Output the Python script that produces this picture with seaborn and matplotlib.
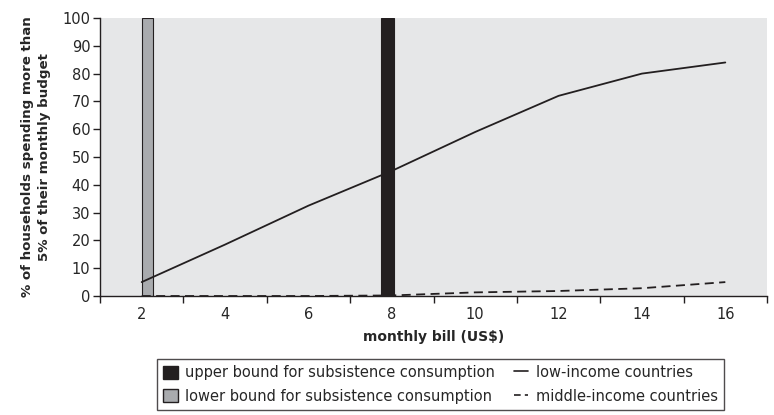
import numpy as np
import pandas as pd
import seaborn as sns
import matplotlib
matplotlib.use("Agg")
from matplotlib import pyplot as plt
from matplotlib.patches import Patch
from matplotlib.lines import Line2D

# data
bill = [2, 4, 6, 8, 10, 12, 14, 16]
low_income = [5, 18.5, 32.5, 45, 59, 72, 80, 84]
middle_income = [0, 0, 0, 0.2, 1.3, 1.8, 2.8, 5]
lower_bound = [2.0, 2.27]   # start / end of grey band (US$)
upper_bound = [7.73, 8.05]  # start / end of black band (US$)

df = pd.DataFrame({"bill": bill, "low": low_income, "mid": middle_income})

sns.set_style("white")
plt.rcParams['font.family'] = ['DejaVu Sans']
plt.rcParams['font.size'] = 10

fig = plt.figure(figsize=(7.74, 4.15), dpi=100)
ax = fig.add_axes([100/774, 1-296/415, 667/774, 278/415])
ax.set_facecolor('#e6e7e8')

ax.bar(lower_bound[0], 100, width=lower_bound[1]-lower_bound[0], align='edge',
       color='#a9abae', edgecolor='#231f20', linewidth=0.8, zorder=2)
ax.bar(upper_bound[0], 100, width=upper_bound[1]-upper_bound[0], align='edge',
       color='#231f20', edgecolor='#231f20', linewidth=0.8, zorder=2)

sns.lineplot(data=df, x="bill", y="low", color='#231f20', linewidth=1.3, ax=ax, zorder=3)
sns.lineplot(data=df, x="bill", y="mid", color='#231f20', linewidth=1.3, ax=ax, zorder=3)
ax.lines[-1].set_dashes([5, 3])

ax.set_xlim(1, 17)
ax.set_ylim(0, 100)
ax.set_yticks(range(0, 101, 10))
ax.set_xticks(bill)
ax.set_xticks(np.arange(1, 18, 2), minor=True)
ax.tick_params(axis='x', which='major', length=0, labelsize=10.5, pad=8)
ax.tick_params(axis='x', which='minor', length=5, width=1, color='#231f20', direction='out')
ax.tick_params(axis='y', length=5, width=1, color='#231f20', labelsize=10.5, direction='out', pad=2)
ax.xaxis.set_tick_params(bottom=True, which='minor')
ax.yaxis.set_tick_params(left=True)
for s in ['top', 'right']:
    ax.spines[s].set_visible(False)
for s in ['left', 'bottom']:
    ax.spines[s].set_color('#231f20')
    ax.spines[s].set_linewidth(1)

ax.set_xlabel("monthly bill (US$)", fontweight='bold', fontsize=10, labelpad=6)
ax.set_ylabel("% of households spending more than\n5% of their monthly budget",
              fontweight='bold', fontsize=9.6, labelpad=8, linespacing=1.45)

handles = [Patch(facecolor='#231f20', edgecolor='#231f20'),
           Patch(facecolor='#a9abae', edgecolor='#231f20'),
           Line2D([], [], color='#231f20', lw=1.2),
           Line2D([], [], color='#231f20', lw=1.2, dashes=[4, 2.5])]
labels = ["upper bound for subsistence consumption",
          "lower bound for subsistence consumption",
          "low-income countries", "middle-income countries"]
fig.legend(handles, labels, ncol=2, loc='upper left',
           bbox_to_anchor=(150/774, 1-352/415), fontsize=10.5, frameon=True,
           fancybox=False, edgecolor='#231f20', handlelength=1.0, handleheight=1.0,
           handletextpad=0.5, columnspacing=1.3, labelspacing=0.6, borderpad=0.4)

fig.savefig("out.png", dpi=100)
